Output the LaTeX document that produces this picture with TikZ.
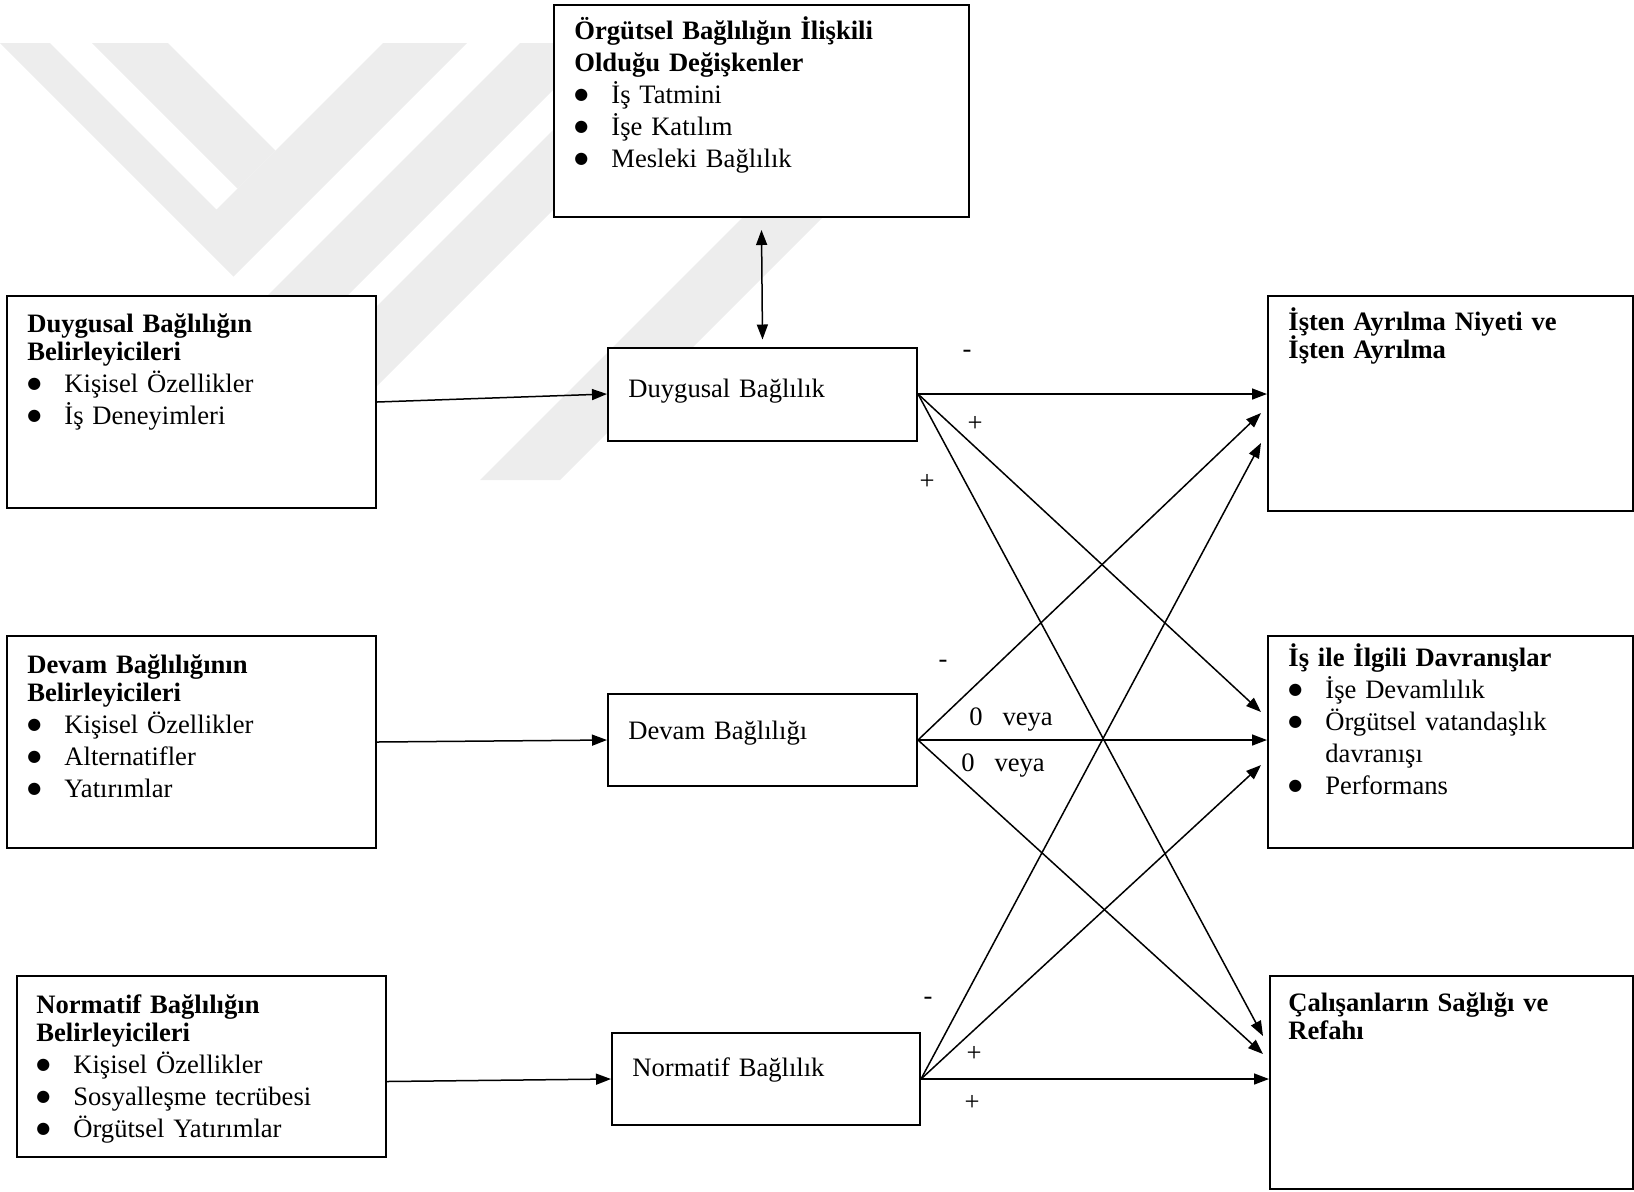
\documentclass[tikz,border=0pt]{standalone}
\usepackage{fontspec}
\setmainfont{Liberation Serif}
\newfontfamily\simgefont{DejaVu Sans}
\usetikzlibrary{arrows.meta,calc}

\newcommand{\madde}[1]{\makebox[18.5pt][l]{\raisebox{2pt}{\simgefont\fontsize{8}{8}\selectfont ●}}#1}

\begin{document}
\begin{tikzpicture}[x=0.5pt,y=-0.5pt,
  kutu/.style={draw, fill=white, line width=1pt, inner sep=0pt},
  yazi/.style={anchor=base west, inner sep=0pt, text width=200pt, align=left,
    font=\fontsize{13.3}{16}\selectfont},
  isaret/.style={inner sep=0pt, font=\fontsize{13.3}{16}\selectfont},
  ok/.style={-{Triangle[length=7.5pt,width=5.5pt]}, line width=0.75pt},
  okiki/.style={{Triangle[length=7.5pt,width=5.5pt]}-{Triangle[length=7.5pt,width=5.5pt]}, line width=0.75pt},
  filigran/.style={fill=black!7, draw=none}]

\useasboundingbox (0,0) rectangle (1634,1191);

\begin{scope}
\clip (0,43) rectangle (1000,500);
\fill[filigran] (0,43) -- (50,43) -- (216.5,209.5) -- (383,43) -- (467,43) -- (233.5,276.5) -- cycle;
\fill[filigran] (92,43) -- (168,43) -- (275.5,150.5) -- (237.5,188.5) -- cycle;
\fill[filigran] (520,43) -- (600,43) -- (160,483) -- (80,483) -- cycle;
\fill[filigran] (640,43) -- (720,43) -- (280,483) -- (200,483) -- cycle;
\fill[filigran] (830,130) -- (910,130) -- (560,480) -- (480,480) -- cycle;
\end{scope}

\node[kutu, minimum width=207.5pt, minimum height=106pt] (orgutsel) at (761.5,111) {};
\node[kutu, minimum width=184.5pt, minimum height=106pt] (dbel) at (191.5,402) {};
\node[kutu, minimum width=184.5pt, minimum height=106pt] (cbel) at (191.5,742) {};
\node[kutu, minimum width=184.5pt, minimum height=90.5pt] (nbel) at (201.5,1066.5) {};
\node[kutu, minimum width=154.5pt, minimum height=46.5pt] (dbag) at (762.5,394) {};
\node[kutu, minimum width=154.5pt, minimum height=46pt] (cbag) at (762.5,740) {};
\node[kutu, minimum width=154pt, minimum height=46pt] (nbag) at (766,1079) {};
\node[kutu, minimum width=182.5pt, minimum height=107.5pt] (ayr) at (1450.5,403.5) {};
\node[kutu, minimum width=182.5pt, minimum height=106pt] (dav) at (1450.5,742) {};
\node[kutu, minimum width=181.5pt, minimum height=106.5pt] (saglik) at (1451.5,1082.5) {};

\node[yazi] (orgutselyazi) at ($(orgutsel.north west)+(21,35)$)
  {\textbf{Örgütsel Bağlılığın İlişkili}\\ \textbf{Olduğu Değişkenler}\\
   \madde{İş Tatmini}\\ \madde{İşe Katılım}\\ \madde{Mesleki Bağlılık}};
\node[yazi] (dbelyazi) at ($(dbel.north west)+(21,37)$)
  {\textbf{Duygusal Bağlılığın}\\[-2pt] \textbf{Belirleyicileri}\\
   \madde{Kişisel Özellikler}\\ \madde{İş Deneyimleri}};
\node[yazi] (cbelyazi) at ($(cbel.north west)+(21,38)$)
  {\textbf{Devam Bağlılığının}\\[-2pt] \textbf{Belirleyicileri}\\
   \madde{Kişisel Özellikler}\\ \madde{Alternatifler}\\ \madde{Yatırımlar}};
\node[yazi] (nbelyazi) at ($(nbel.north west)+(20,38)$)
  {\textbf{Normatif Bağlılığın}\\[-2pt] \textbf{Belirleyicileri}\\
   \madde{Kişisel Özellikler}\\ \madde{Sosyalleşme tecrübesi}\\ \madde{Örgütsel Yatırımlar}};
\node[yazi] (dbagyazi) at ($(dbag.west)+(21,3)$) {Duygusal Bağlılık};
\node[yazi] (cbagyazi) at ($(cbag.west)+(21,-1)$) {Devam Bağlılığı};
\node[yazi] (nbagyazi) at ($(nbag.west)+(21,-3)$) {Normatif Bağlılık};
\node[yazi] (ayryazi) at ($(ayr.north west)+(21,35)$)
  {\textbf{İşten Ayrılma Niyeti ve}\\[-2pt] \textbf{İşten Ayrılma}};
\node[yazi] (davyazi) at ($(dav.north west)+(21,31)$)
  {\textbf{İş ile İlgili Davranışlar}\\
   \madde{İşe Devamlılık}\\ \madde{Örgütsel vatandaşlık}\\ \hspace*{18.5pt}davranışı\\ \madde{Performans}};
\node[yazi] (saglikyazi) at ($(saglik.north west)+(19,36)$)
  {\textbf{Çalışanların Sağlığı ve}\\[-2pt] \textbf{Refahı}};

\coordinate (a2) at ($(ayr.north west)+(-6,118)$);
\coordinate (a3) at ($(ayr.north west)+(-6,148)$);
\coordinate (d1) at ($(dav.north west)+(-6,77)$);
\coordinate (d3) at ($(dav.north west)+(-6,130)$);
\coordinate (s1) at ($(saglik.north west)+(-6,61)$);
\coordinate (s2) at ($(saglik.north west)+(-6,79)$);

\draw[okiki] ($(orgutsel.south)+(0,12)$) -- ($(dbag.north)+(0,-7)$);
\draw[ok] (dbel.east) -- (dbag.west);
\draw[ok] (cbel.east) -- (cbag.west);
\draw[ok] ($(nbel.east)+(0,15)$) -- (nbag.west);

\draw[ok] (dbag.east) -- (dbag.east -| ayr.west);
\draw[ok] (dbag.east) -- (d1);
\draw[ok] (dbag.east) -- (s1);
\draw[ok] (cbag.east) -- (a2);
\draw[ok] (cbag.east) -- (cbag.east -| dav.west);
\draw[ok] (cbag.east) -- (s2);
\draw[ok] (nbag.east) -- (a3);
\draw[ok] (nbag.east) -- (d3);
\draw[ok] (nbag.east) -- (nbag.east -| saglik.west);

\node[isaret] (i1) at (967,354) {-};
\node[isaret] (i2) at (975,424) {+};
\node[isaret] (i3) at (927,482) {+};
\node[isaret] (i4) at (943,664) {-};
\node[isaret] (i5) at (1011,720) {0\hspace{10pt}veya};
\node[isaret] (i6) at (1003,766) {0\hspace{10pt}veya};
\node[isaret] (i7) at (928,1001) {-};
\node[isaret] (i8) at (974,1054) {+};
\node[isaret] (i9) at (972,1103) {+};
\end{tikzpicture}
\end{document}
